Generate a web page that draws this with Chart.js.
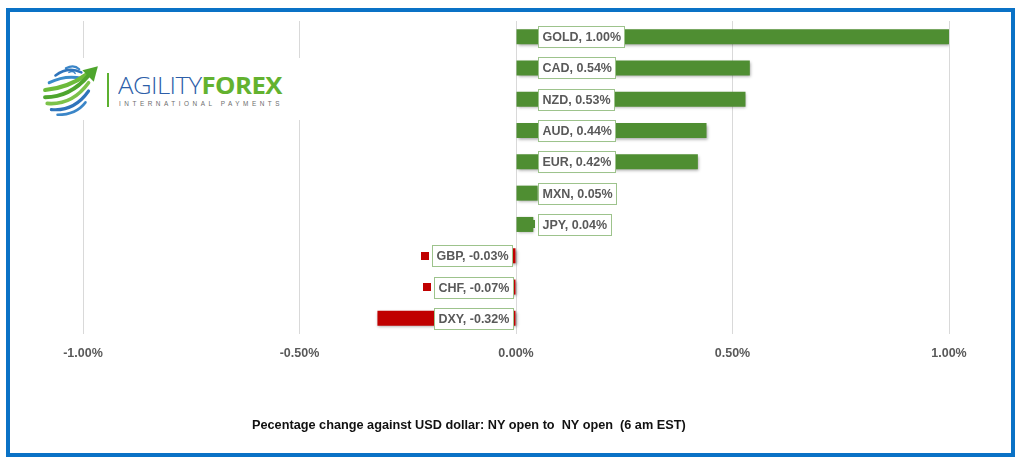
<!DOCTYPE html>
<html>
<head>
<meta charset="utf-8">
<script src="https://cdn.jsdelivr.net/npm/chart.js@4/dist/chart.umd.min.js"></script>
<style>
  html, body { margin: 0; padding: 0; background: #fff; }
  body { width: 1024px; height: 457px; position: relative; overflow: hidden; font-family: "Liberation Sans", Arial, sans-serif; }
  #frame { position: absolute; left: 6px; top: 8px; width: 1009px; height: 449px; box-sizing: border-box; border: 4px solid #0a72c6; pointer-events: none; z-index: 5; }
  #c { position: absolute; left: 0; top: 0; }
  #logo { position: absolute; left: 36px; top: 58px; width: 266px; height: 62px; background: #fff; z-index: 3; }
  #globe { position: absolute; left: 5px; top: 3px; }
  #vbar { position: absolute; left: 71px; top: 15px; width: 2px; height: 34px; background: #5cb030; }
  #brand { position: absolute; left: 82px; top: 15px; white-space: nowrap; font-size: 24px; line-height: 24px; transform-origin: 0 0; letter-spacing: -0.5px; }
  #brand .a { color: #2d5ea8; font-family: "Open Sans", "Lato", sans-serif; font-weight: 300; }
  #brand .f { color: #63b22f; font-family: "Open Sans", "Lato", sans-serif; font-weight: 700; }
  #tag { position: absolute; left: 83px; top: 42px; white-space: nowrap; font-size: 6.5px; line-height: 8px; letter-spacing: 3.6px; color: #6d6d6d; font-family: "Liberation Sans", sans-serif; transform-origin: 0 0; }
  #caption { position: absolute; left: 252px; top: 418px; white-space: nowrap; font-size: 12.5px; font-weight: bold; color: #111; font-family: "Liberation Sans Narrow", "Liberation Sans", sans-serif; transform-origin: 0 0; }
</style>
</head>
<body>
<canvas id="c" width="1024" height="457"></canvas>
<div id="logo">
  <svg id="globe" width="60" height="60" viewBox="0 0 58 58">
    <g fill="none" stroke-linecap="round">
      <path d="M24 7 q8 -4 13 1" stroke="#3b86c8" stroke-width="2"/>
      <path d="M27 11 q4 -2 6 1" stroke="#3b86c8" stroke-width="1.5"/>
      <path d="M14 14 q12 -9 25 -3" stroke="#2f74bb" stroke-width="2.5"/>
      <path d="M8 21 q16 -8 32 -4" stroke="#3a8bc9" stroke-width="3"/>
      <path d="M4 28 q22 -2 40 -15" stroke="#6dbb3a" stroke-width="4"/>
      <path d="M4 35 q24 0 42 -21" stroke="#4ea52d" stroke-width="4"/>
      <path d="M6 41 q24 2 40 -20" stroke="#7cc24a" stroke-width="3.5"/>
      <path d="M10 47 q22 2 36 -18" stroke="#2f74bb" stroke-width="3"/>
      <path d="M16 52 q18 0 27 -12" stroke="#3b86c8" stroke-width="2.5"/>
    </g>
    <path d="M40 9 L55 5 L51 20 Z" fill="#4ea52d"/>
  </svg>
  <div id="vbar"></div>
  <div id="brand"><span class="a">AGILITY</span><span class="f">FOREX</span></div>
  <div id="tag">INTERNATIONAL PAYMENTS</div>
</div>
<div id="caption">Pecentage change against USD dollar: NY open to&nbsp; NY open&nbsp; (6 am EST)</div>
<div id="frame"></div>
<script>
// ---- data ----
const categories = ['GOLD', 'CAD', 'NZD', 'AUD', 'EUR', 'MXN', 'JPY', 'GBP', 'CHF', 'DXY'];
const changes = [1.00, 0.54, 0.53, 0.44, 0.42, 0.05, 0.04, -0.03, -0.07, -0.32];
const tickValues = [-1.0, -0.5, 0.0, 0.5, 1.0];

const GREEN = '#4f8e32';
const RED = '#c00000';
const barColors = changes.map(v => v >= 0 ? GREEN : RED);

const fmt = v => v.toFixed(2) + '%';

const shadowPlugin = {
  id: 'barShadow',
  beforeDatasetDraw(chart) {
    const ctx = chart.ctx;
    ctx.save();
    ctx.shadowColor = 'rgba(0,0,0,0.35)';
    ctx.shadowBlur = 3;
    ctx.shadowOffsetX = 1;
    ctx.shadowOffsetY = 1.5;
  },
  afterDatasetDraw(chart) {
    chart.ctx.restore();
  }
};

const labelPlugin = {
  id: 'boxLabels',
  afterDatasetsDraw(chart) {
    const ctx = chart.ctx;
    const meta = chart.getDatasetMeta(0);
    const ds = chart.data.datasets[0];
    ctx.save();
    ctx.font = 'bold 12.5px "Liberation Sans", Arial, sans-serif';
    ctx.textBaseline = 'middle';
    meta.data.forEach((bar, i) => {
      const v = ds.data[i];
      const text = chart.data.labels[i] + ', ' + fmt(v);
      const w = ctx.measureText(text).width + 8;
      const h = 21;
      const base = bar.base;
      const left = v >= 0 ? base + 21 : base - 3 - w;
      const top = bar.y - h / 2;
      ctx.fillStyle = barColors[i];
      ctx.fillRect(Math.round(left - 11), Math.round(bar.y - 4), 8, 8);
      ctx.fillStyle = '#ffffff';
      ctx.fillRect(Math.round(left) + 0.5, Math.round(top) + 0.5, Math.round(w), h);
      ctx.strokeStyle = '#9dc38c';
      ctx.lineWidth = 1;
      ctx.strokeRect(Math.round(left) + 0.5, Math.round(top) + 0.5, Math.round(w), h);
      ctx.fillStyle = '#595959';
      ctx.fillText(text, Math.round(left) + 4.5, bar.y + 1);
    });
    ctx.restore();
  }
};

new Chart(document.getElementById('c'), {
  type: 'bar',
  data: {
    labels: categories,
    datasets: [{
      data: changes,
      backgroundColor: barColors,
      borderWidth: 0,
      barPercentage: 1.0,
      categoryPercentage: 0.48
    }]
  },
  options: {
    indexAxis: 'y',
    responsive: false,
    animation: false,
    devicePixelRatio: 1,
    layout: { padding: { left: 83, right: 75, top: 21, bottom: 84 } },
    plugins: { legend: { display: false }, tooltip: { enabled: false }, title: { display: false } },
    scales: {
      y: { display: false },
      x: {
        min: tickValues[0],
        max: tickValues[tickValues.length - 1],
        afterBuildTicks(axis) { axis.ticks = tickValues.map(v => ({ value: v })); },
        grid: { color: '#d9d9d9', lineWidth: 1, drawTicks: false },
        border: { display: false },
        ticks: {
          padding: 12,
          color: '#595959',
          font: { family: '"Liberation Sans", Arial, sans-serif', size: 12.5, weight: 'bold' },
          maxRotation: 0,
          callback: v => fmt(v)
        }
      }
    }
  },
  plugins: [shadowPlugin, labelPlugin]
});

function fit(id, width) {
  const el = document.getElementById(id);
  const w = el.scrollWidth;
  if (w > 0) el.style.transform = 'scaleX(' + (width / w) + ')';
}
(document.fonts ? document.fonts.ready : Promise.resolve()).then(() => {
  fit('brand', 164);
  fit('tag', 164);
  fit('caption', 434);
});
</script>
</body>
</html>
